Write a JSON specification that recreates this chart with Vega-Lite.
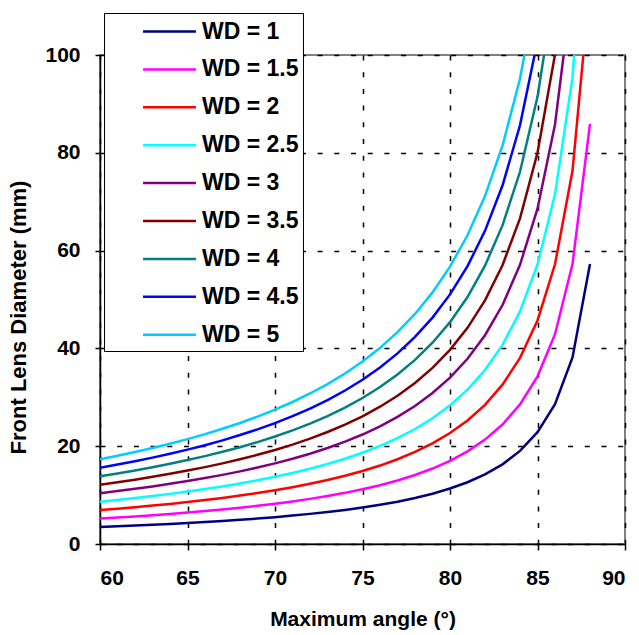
{
  "$schema": "https://vega.github.io/schema/vega-lite/v6.json",
  "autosize": {"type": "none"},
  "width": 525,
  "height": 489,
  "padding": {"left": 100, "top": 55, "right": 14, "bottom": 91},
  "background": "white",
  "config": {
    "font": "Liberation Sans",
    "view": {"stroke": "#808080", "strokeWidth": 2}
  },
  "datasets": {
    "d": [
      {"a":60,"w":1,"d":3.46},{"a":61,"w":1,"d":3.61},{"a":62,"w":1,"d":3.76},{"a":63,"w":1,"d":3.93},{"a":64,"w":1,"d":4.10},{"a":65,"w":1,"d":4.29},{"a":66,"w":1,"d":4.49},{"a":67,"w":1,"d":4.71},{"a":68,"w":1,"d":4.95},{"a":69,"w":1,"d":5.21},{"a":70,"w":1,"d":5.49},{"a":71,"w":1,"d":5.81},{"a":72,"w":1,"d":6.16},{"a":73,"w":1,"d":6.54},{"a":74,"w":1,"d":6.97},{"a":75,"w":1,"d":7.46},{"a":76,"w":1,"d":8.02},{"a":77,"w":1,"d":8.66},{"a":78,"w":1,"d":9.41},{"a":79,"w":1,"d":10.29},{"a":80,"w":1,"d":11.34},{"a":81,"w":1,"d":12.63},{"a":82,"w":1,"d":14.23},{"a":83,"w":1,"d":16.29},{"a":84,"w":1,"d":19.03},{"a":85,"w":1,"d":22.86},{"a":86,"w":1,"d":28.60},{"a":87,"w":1,"d":38.16},{"a":88,"w":1,"d":57.27},
      {"a":60,"w":1.5,"d":5.20},{"a":61,"w":1.5,"d":5.41},{"a":62,"w":1.5,"d":5.64},{"a":63,"w":1.5,"d":5.89},{"a":64,"w":1.5,"d":6.15},{"a":65,"w":1.5,"d":6.43},{"a":66,"w":1.5,"d":6.74},{"a":67,"w":1.5,"d":7.07},{"a":68,"w":1.5,"d":7.43},{"a":69,"w":1.5,"d":7.82},{"a":70,"w":1.5,"d":8.24},{"a":71,"w":1.5,"d":8.71},{"a":72,"w":1.5,"d":9.23},{"a":73,"w":1.5,"d":9.81},{"a":74,"w":1.5,"d":10.46},{"a":75,"w":1.5,"d":11.20},{"a":76,"w":1.5,"d":12.03},{"a":77,"w":1.5,"d":12.99},{"a":78,"w":1.5,"d":14.11},{"a":79,"w":1.5,"d":15.43},{"a":80,"w":1.5,"d":17.01},{"a":81,"w":1.5,"d":18.94},{"a":82,"w":1.5,"d":21.35},{"a":83,"w":1.5,"d":24.43},{"a":84,"w":1.5,"d":28.54},{"a":85,"w":1.5,"d":34.29},{"a":86,"w":1.5,"d":42.90},{"a":87,"w":1.5,"d":57.24},{"a":88,"w":1.5,"d":85.91},
      {"a":60,"w":2,"d":6.93},{"a":61,"w":2,"d":7.22},{"a":62,"w":2,"d":7.52},{"a":63,"w":2,"d":7.85},{"a":64,"w":2,"d":8.20},{"a":65,"w":2,"d":8.58},{"a":66,"w":2,"d":8.98},{"a":67,"w":2,"d":9.42},{"a":68,"w":2,"d":9.90},{"a":69,"w":2,"d":10.42},{"a":70,"w":2,"d":10.99},{"a":71,"w":2,"d":11.62},{"a":72,"w":2,"d":12.31},{"a":73,"w":2,"d":13.08},{"a":74,"w":2,"d":13.95},{"a":75,"w":2,"d":14.93},{"a":76,"w":2,"d":16.04},{"a":77,"w":2,"d":17.33},{"a":78,"w":2,"d":18.82},{"a":79,"w":2,"d":20.58},{"a":80,"w":2,"d":22.69},{"a":81,"w":2,"d":25.26},{"a":82,"w":2,"d":28.46},{"a":83,"w":2,"d":32.58},{"a":84,"w":2,"d":38.06},{"a":85,"w":2,"d":45.72},{"a":86,"w":2,"d":57.20},{"a":87,"w":2,"d":76.32},{"a":88,"w":2,"d":114.55},
      {"a":60,"w":2.5,"d":8.66},{"a":61,"w":2.5,"d":9.02},{"a":62,"w":2.5,"d":9.40},{"a":63,"w":2.5,"d":9.81},{"a":64,"w":2.5,"d":10.25},{"a":65,"w":2.5,"d":10.72},{"a":66,"w":2.5,"d":11.23},{"a":67,"w":2.5,"d":11.78},{"a":68,"w":2.5,"d":12.38},{"a":69,"w":2.5,"d":13.03},{"a":70,"w":2.5,"d":13.74},{"a":71,"w":2.5,"d":14.52},{"a":72,"w":2.5,"d":15.39},{"a":73,"w":2.5,"d":16.35},{"a":74,"w":2.5,"d":17.44},{"a":75,"w":2.5,"d":18.66},{"a":76,"w":2.5,"d":20.05},{"a":77,"w":2.5,"d":21.66},{"a":78,"w":2.5,"d":23.52},{"a":79,"w":2.5,"d":25.72},{"a":80,"w":2.5,"d":28.36},{"a":81,"w":2.5,"d":31.57},{"a":82,"w":2.5,"d":35.58},{"a":83,"w":2.5,"d":40.72},{"a":84,"w":2.5,"d":47.57},{"a":85,"w":2.5,"d":57.15},{"a":86,"w":2.5,"d":71.50},{"a":87,"w":2.5,"d":95.41},{"a":88,"w":2.5,"d":143.18},
      {"a":60,"w":3,"d":10.39},{"a":61,"w":3,"d":10.82},{"a":62,"w":3,"d":11.28},{"a":63,"w":3,"d":11.78},{"a":64,"w":3,"d":12.30},{"a":65,"w":3,"d":12.87},{"a":66,"w":3,"d":13.48},{"a":67,"w":3,"d":14.14},{"a":68,"w":3,"d":14.85},{"a":69,"w":3,"d":15.63},{"a":70,"w":3,"d":16.49},{"a":71,"w":3,"d":17.43},{"a":72,"w":3,"d":18.47},{"a":73,"w":3,"d":19.63},{"a":74,"w":3,"d":20.92},{"a":75,"w":3,"d":22.39},{"a":76,"w":3,"d":24.06},{"a":77,"w":3,"d":25.99},{"a":78,"w":3,"d":28.23},{"a":79,"w":3,"d":30.87},{"a":80,"w":3,"d":34.03},{"a":81,"w":3,"d":37.88},{"a":82,"w":3,"d":42.69},{"a":83,"w":3,"d":48.87},{"a":84,"w":3,"d":57.09},{"a":85,"w":3,"d":68.58},{"a":86,"w":3,"d":85.80},{"a":87,"w":3,"d":114.49},
      {"a":60,"w":3.5,"d":12.12},{"a":61,"w":3.5,"d":12.63},{"a":62,"w":3.5,"d":13.16},{"a":63,"w":3.5,"d":13.74},{"a":64,"w":3.5,"d":14.35},{"a":65,"w":3.5,"d":15.01},{"a":66,"w":3.5,"d":15.72},{"a":67,"w":3.5,"d":16.49},{"a":68,"w":3.5,"d":17.33},{"a":69,"w":3.5,"d":18.24},{"a":70,"w":3.5,"d":19.23},{"a":71,"w":3.5,"d":20.33},{"a":72,"w":3.5,"d":21.54},{"a":73,"w":3.5,"d":22.90},{"a":74,"w":3.5,"d":24.41},{"a":75,"w":3.5,"d":26.12},{"a":76,"w":3.5,"d":28.08},{"a":77,"w":3.5,"d":30.32},{"a":78,"w":3.5,"d":32.93},{"a":79,"w":3.5,"d":36.01},{"a":80,"w":3.5,"d":39.70},{"a":81,"w":3.5,"d":44.20},{"a":82,"w":3.5,"d":49.81},{"a":83,"w":3.5,"d":57.01},{"a":84,"w":3.5,"d":66.60},{"a":85,"w":3.5,"d":80.01},{"a":86,"w":3.5,"d":100.10},{"a":87,"w":3.5,"d":133.57},
      {"a":60,"w":4,"d":13.86},{"a":61,"w":4,"d":14.43},{"a":62,"w":4,"d":15.05},{"a":63,"w":4,"d":15.70},{"a":64,"w":4,"d":16.40},{"a":65,"w":4,"d":17.16},{"a":66,"w":4,"d":17.97},{"a":67,"w":4,"d":18.85},{"a":68,"w":4,"d":19.80},{"a":69,"w":4,"d":20.84},{"a":70,"w":4,"d":21.98},{"a":71,"w":4,"d":23.23},{"a":72,"w":4,"d":24.62},{"a":73,"w":4,"d":26.17},{"a":74,"w":4,"d":27.90},{"a":75,"w":4,"d":29.86},{"a":76,"w":4,"d":32.09},{"a":77,"w":4,"d":34.65},{"a":78,"w":4,"d":37.64},{"a":79,"w":4,"d":41.16},{"a":80,"w":4,"d":45.37},{"a":81,"w":4,"d":50.51},{"a":82,"w":4,"d":56.92},{"a":83,"w":4,"d":65.15},{"a":84,"w":4,"d":76.12},{"a":85,"w":4,"d":91.44},{"a":86,"w":4,"d":114.41},
      {"a":60,"w":4.5,"d":15.59},{"a":61,"w":4.5,"d":16.24},{"a":62,"w":4.5,"d":16.93},{"a":63,"w":4.5,"d":17.66},{"a":64,"w":4.5,"d":18.45},{"a":65,"w":4.5,"d":19.30},{"a":66,"w":4.5,"d":20.21},{"a":67,"w":4.5,"d":21.20},{"a":68,"w":4.5,"d":22.28},{"a":69,"w":4.5,"d":23.45},{"a":70,"w":4.5,"d":24.73},{"a":71,"w":4.5,"d":26.14},{"a":72,"w":4.5,"d":27.70},{"a":73,"w":4.5,"d":29.44},{"a":74,"w":4.5,"d":31.39},{"a":75,"w":4.5,"d":33.59},{"a":76,"w":4.5,"d":36.10},{"a":77,"w":4.5,"d":38.98},{"a":78,"w":4.5,"d":42.34},{"a":79,"w":4.5,"d":46.30},{"a":80,"w":4.5,"d":51.04},{"a":81,"w":4.5,"d":56.82},{"a":82,"w":4.5,"d":64.04},{"a":83,"w":4.5,"d":73.30},{"a":84,"w":4.5,"d":85.63},{"a":85,"w":4.5,"d":102.87},
      {"a":60,"w":5,"d":17.32},{"a":61,"w":5,"d":18.04},{"a":62,"w":5,"d":18.81},{"a":63,"w":5,"d":19.63},{"a":64,"w":5,"d":20.50},{"a":65,"w":5,"d":21.45},{"a":66,"w":5,"d":22.46},{"a":67,"w":5,"d":23.56},{"a":68,"w":5,"d":24.75},{"a":69,"w":5,"d":26.05},{"a":70,"w":5,"d":27.47},{"a":71,"w":5,"d":29.04},{"a":72,"w":5,"d":30.78},{"a":73,"w":5,"d":32.71},{"a":74,"w":5,"d":34.87},{"a":75,"w":5,"d":37.32},{"a":76,"w":5,"d":40.11},{"a":77,"w":5,"d":43.32},{"a":78,"w":5,"d":47.05},{"a":79,"w":5,"d":51.45},{"a":80,"w":5,"d":56.71},{"a":81,"w":5,"d":63.14},{"a":82,"w":5,"d":71.15},{"a":83,"w":5,"d":81.44},{"a":84,"w":5,"d":95.14},{"a":85,"w":5,"d":114.30}
    ]
  },
  "data": {"name": "d"},
  "mark": {"type": "line", "strokeWidth": 2.5, "clip": true},
  "encoding": {
    "x": {
      "field": "a", "type": "quantitative",
      "scale": {"domain": [60, 90], "nice": false, "zero": false},
      "axis": {
        "title": "Maximum angle (°)",
        "values": [60, 65, 70, 75, 80, 85, 90],
        "format": "d",
        "domainColor": "black", "domainWidth": 1.5,
        "tickColor": "black", "tickSize": 6, "tickWidth": 1.5,
        "labelFontSize": 21, "labelFontWeight": "bold", "labelColor": "black", "labelPadding": 17,
        "titleFontSize": 21, "titleFontWeight": "bold", "titleColor": "black", "titlePadding": 20,
        "grid": true, "gridColor": "black", "gridWidth": 1.5, "gridDash": [5, 11.7], "gridOpacity": 1
      }
    },
    "y": {
      "field": "d", "type": "quantitative",
      "scale": {"domain": [0, 100], "nice": false},
      "axis": {
        "title": "Front Lens Diameter (mm)",
        "values": [0, 20, 40, 60, 80, 100],
        "domainColor": "black", "domainWidth": 1.5,
        "tickColor": "black", "tickSize": 5, "tickWidth": 1.5,
        "labelFontSize": 21, "labelFontWeight": "bold", "labelColor": "black", "labelPadding": 15,
        "titleFontSize": 22, "titleFontWeight": "bold", "titleColor": "black", "titlePadding": 14,
        "titleY": 262,
        "grid": true, "gridColor": "black", "gridWidth": 1.5, "gridDash": [5, 11.7], "gridOpacity": 1
      }
    },
    "color": {
      "field": "w", "type": "nominal",
      "scale": {
        "domain": [1, 1.5, 2, 2.5, 3, 3.5, 4, 4.5, 5],
        "range": ["#000080", "#FF00FF", "#FF0000", "#00FFFF", "#800080", "#800000", "#008080", "#0000FF", "#00CCFF"]
      },
      "legend": {
        "title": null,
        "orient": "none",
        "legendX": 4,
        "legendY": -42,
        "padding": 4,
        "strokeColor": "black",
        "fillColor": "white",
        "symbolType": "M-2,0H2",
        "symbolSize": 700,
        "symbolStrokeWidth": 2.5,
        "symbolOffset": 47,
        "labelOffset": 18,
        "labelFontSize": 23,
        "labelFontWeight": "bold",
        "labelColor": "black",
        "labelExpr": "'WD = ' + datum.label",
        "rowPadding": 10.9
      }
    }
  }
}
